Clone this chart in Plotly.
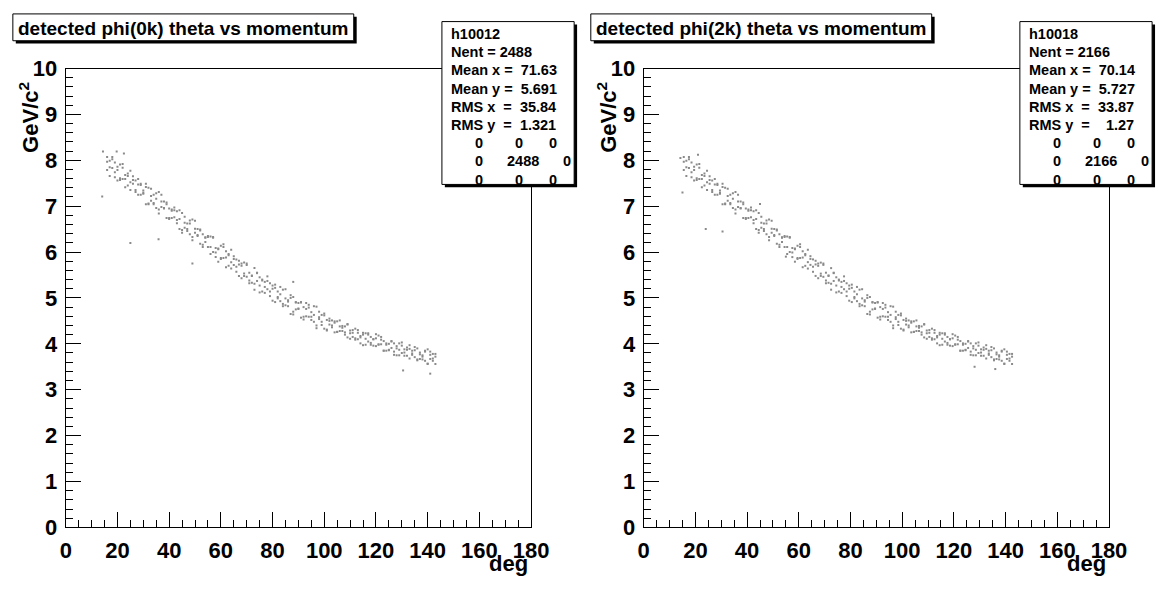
import plotly.graph_objects as go

# ---------------- data ----------------
theta_l = [16, 17, 18, 19, 20, 21, 22, 23, 24, 25, 26, 27, 28, 29, 30, 31, 32, 33, 34, 35,
           36, 37, 38, 39, 40, 41, 42, 43, 44, 45, 46, 47, 48, 49, 50, 51, 52, 53, 54, 55,
           56, 57, 58, 59, 60, 61, 62, 63, 64, 65, 66, 67, 68, 69, 70, 71, 72, 73, 74, 75,
           76, 77, 78, 79, 80, 81, 82, 83, 84, 85, 86, 87, 88, 89, 90, 91, 92, 93, 94, 95,
           96, 97, 98, 99, 100, 101, 102, 103, 104, 105, 106, 107, 108, 109, 110, 111, 112,
           113, 114, 115, 116, 117, 118, 119, 120, 121, 122, 123, 124, 125, 126, 127, 128,
           129, 130, 131, 132, 133, 134, 135, 136, 137, 138, 139, 140, 141, 142, 143]
mom_l_a = [8.07, 7.85, 8.07, 7.63, 7.79, 7.61, 7.84, 7.41, 7.66, 7.52, 7.65, 7.31, 7.47, 7.49,
           7.27, 7.49, 7.06, 7.22, 7.04, 7.28, 6.84, 7.10, 6.95, 7.08, 6.74, 6.90, 6.91, 6.70,
           6.91, 6.48, 6.64, 6.46, 6.69, 6.26, 6.51, 6.37, 6.49, 6.16, 6.31, 6.33, 6.11, 6.33,
           5.89, 6.06, 5.87, 6.11, 5.67, 5.93, 5.78, 5.91, 5.57, 5.73, 5.75, 5.53, 5.75, 5.32,
           5.49, 5.31, 5.55, 5.12, 5.38, 5.24, 5.37, 5.04, 5.20, 5.22, 5.02, 5.24, 4.82, 4.99,
           4.82, 5.06, 4.64, 4.90, 4.77, 4.91, 4.59, 4.76, 4.79, 4.59, 4.82, 4.40, 4.58, 4.41,
           4.66, 4.31, 4.50, 4.40, 4.49, 4.26, 4.38, 4.39, 4.25, 4.42, 4.11, 4.24, 4.12, 4.30,
           4.01, 4.20, 4.11, 4.20, 3.98, 4.10, 4.12, 3.98, 4.15, 3.85, 3.98, 3.86, 4.05, 3.76,
           3.95, 3.87, 3.96, 3.74, 3.87, 3.89, 3.76, 3.93, 3.64, 3.77, 3.66, 3.85, 3.56, 3.76,
           3.68, 3.78]
mom_l_b = [7.79, 7.99, 7.83, 7.95, 7.56, 7.91, 7.59, 7.68, 7.45, 7.77, 7.49, 7.56, 7.25, 7.46,
           7.29, 7.42, 7.04, 7.38, 7.07, 7.16, 6.93, 7.25, 6.96, 7.04, 6.72, 6.93, 6.76, 6.89,
           6.50, 6.85, 6.53, 6.62, 6.39, 6.71, 6.42, 6.50, 6.18, 6.39, 6.22, 6.35, 5.96, 6.31,
           5.99, 6.08, 5.85, 6.17, 5.88, 5.96, 5.64, 5.85, 5.68, 5.81, 5.43, 5.77, 5.46, 5.55,
           5.33, 5.65, 5.37, 5.45, 5.14, 5.35, 5.19, 5.32, 4.94, 5.29, 4.99, 5.08, 4.87, 5.19,
           4.92, 5.00, 4.70, 4.91, 4.76, 4.90, 4.53, 4.89, 4.59, 4.69, 4.48, 4.81, 4.54, 4.63,
           4.33, 4.52, 4.42, 4.51, 4.25, 4.49, 4.28, 4.35, 4.20, 4.43, 4.23, 4.30, 4.09, 4.24,
           4.14, 4.24, 3.98, 4.23, 4.02, 4.10, 3.95, 4.18, 3.99, 4.06, 3.85, 4.00, 3.91, 4.01,
           3.75, 4.01, 3.80, 3.88, 3.74, 3.97, 3.79, 3.86, 3.66, 3.81, 3.72, 3.83, 3.57, 3.83,
           3.63, 3.72]
mom_l_c = [7.97, 7.66, 8.02, 7.74, 7.86, 7.57, 7.92, 7.59, 7.71, 7.35, 7.57, 7.35, 7.59, 7.25,
           7.34, 7.04, 7.40, 7.12, 7.25, 6.96, 7.31, 6.98, 7.10, 6.74, 6.95, 6.74, 6.97, 6.63,
           6.72, 6.42, 6.77, 6.50, 6.62, 6.33, 6.68, 6.35, 6.47, 6.11, 6.32, 6.11, 6.34, 6.00,
           6.09, 5.79, 6.14, 5.87, 6.02, 5.70, 6.05, 5.72, 5.84, 5.48, 5.70, 5.48, 5.72, 5.38,
           5.48, 5.18, 5.54, 5.27, 5.40, 5.11, 5.47, 5.14, 5.27, 4.91, 5.14, 4.93, 5.18, 4.84,
           4.95, 4.65, 5.02, 4.75, 4.89, 4.57, 4.80, 4.60, 4.85, 4.52, 4.63, 4.34, 4.70, 4.48,
           4.62, 4.29, 4.55, 4.36, 4.46, 4.26, 4.51, 4.28, 4.38, 4.14, 4.29, 4.15, 4.33, 4.10,
           4.17, 3.97, 4.23, 4.05, 4.15, 3.96, 4.21, 3.99, 4.09, 3.85, 4.01, 3.87, 4.06, 3.83,
           3.90, 3.75, 4.03, 3.81, 3.92, 3.68, 3.85, 3.71, 3.90, 3.67, 3.75, 3.63, 3.88, 3.67,
           3.78, 3.56]
out_l_theta = [14.4, 19.7, 14.1, 25.0, 35.9, 49.0, 88.0, 130.5, 141.0, 22.5]
out_l_mom = [8.19, 8.19, 7.21, 6.20, 6.28, 5.75, 5.35, 3.42, 3.35, 8.15]

theta_r = [15.5, 16.5, 17.5, 18.5, 19.5, 20.5, 21.5, 22.5, 23.5, 24.5, 25.5, 26.5, 27.5, 28.5,
           29.5, 30.5, 31.5, 32.5, 33.5, 34.5, 35.5, 36.5, 37.5, 38.5, 39.5, 40.5, 41.5, 42.5,
           43.5, 44.5, 45.5, 46.5, 47.5, 48.5, 49.5, 50.5, 51.5, 52.5, 53.5, 54.5, 55.5, 56.5,
           57.5, 58.5, 59.5, 60.5, 61.5, 62.5, 63.5, 64.5, 65.5, 66.5, 67.5, 68.5, 69.5, 70.5,
           71.5, 72.5, 73.5, 74.5, 75.5, 76.5, 77.5, 78.5, 79.5, 80.5, 81.5, 82.5, 83.5, 84.5,
           85.5, 86.5, 87.5, 88.5, 89.5, 90.5, 91.5, 92.5, 93.5, 94.5, 95.5, 96.5, 97.5, 98.5,
           99.5, 100.5, 101.5, 102.5, 103.5, 104.5, 105.5, 106.5, 107.5, 108.5, 109.5, 110.5,
           111.5, 112.5, 113.5, 114.5, 115.5, 116.5, 117.5, 118.5, 119.5, 120.5, 121.5, 122.5,
           123.5, 124.5, 125.5, 126.5, 127.5, 128.5, 129.5, 130.5, 131.5, 132.5, 133.5, 134.5,
           135.5, 136.5, 137.5, 138.5, 139.5, 140.5, 141.5, 142.5]
mom_r_a = [7.79, 7.99, 7.83, 7.95, 7.56, 7.91, 7.59, 7.68, 7.45, 7.77, 7.49, 7.56, 7.25, 7.46,
           7.29, 7.42, 7.04, 7.38, 7.07, 7.16, 6.93, 7.25, 6.96, 7.04, 6.72, 6.93, 6.76, 6.89,
           6.50, 6.85, 6.53, 6.62, 6.39, 6.71, 6.42, 6.50, 6.18, 6.39, 6.22, 6.35, 5.96, 6.31,
           5.99, 6.08, 5.85, 6.17, 5.88, 5.96, 5.64, 5.85, 5.68, 5.81, 5.43, 5.77, 5.46, 5.55,
           5.33, 5.65, 5.37, 5.45, 5.14, 5.35, 5.19, 5.32, 4.94, 5.29, 4.99, 5.08, 4.87, 5.19,
           4.92, 5.00, 4.70, 4.91, 4.76, 4.90, 4.53, 4.89, 4.59, 4.69, 4.48, 4.81, 4.54, 4.63,
           4.33, 4.52, 4.42, 4.51, 4.25, 4.49, 4.28, 4.35, 4.20, 4.43, 4.23, 4.30, 4.09, 4.24,
           4.14, 4.24, 3.98, 4.23, 4.02, 4.10, 3.95, 4.18, 3.99, 4.06, 3.85, 4.00, 3.91, 4.01,
           3.75, 4.01, 3.80, 3.88, 3.74, 3.97, 3.79, 3.86, 3.66, 3.81, 3.72, 3.83, 3.57, 3.83,
           3.63, 3.72]
mom_r_b = [7.97, 7.66, 8.02, 7.74, 7.86, 7.57, 7.92, 7.59, 7.71, 7.35, 7.57, 7.35, 7.59, 7.25,
           7.34, 7.04, 7.40, 7.12, 7.25, 6.96, 7.31, 6.98, 7.10, 6.74, 6.95, 6.74, 6.97, 6.63,
           6.72, 6.42, 6.77, 6.50, 6.62, 6.33, 6.68, 6.35, 6.47, 6.11, 6.32, 6.11, 6.34, 6.00,
           6.09, 5.79, 6.14, 5.87, 6.02, 5.70, 6.05, 5.72, 5.84, 5.48, 5.70, 5.48, 5.72, 5.38,
           5.48, 5.18, 5.54, 5.27, 5.40, 5.11, 5.47, 5.14, 5.27, 4.91, 5.14, 4.93, 5.18, 4.84,
           4.95, 4.65, 5.02, 4.75, 4.89, 4.57, 4.80, 4.60, 4.85, 4.52, 4.63, 4.34, 4.70, 4.48,
           4.62, 4.29, 4.55, 4.36, 4.46, 4.26, 4.51, 4.28, 4.38, 4.14, 4.29, 4.15, 4.33, 4.10,
           4.17, 3.97, 4.23, 4.05, 4.15, 3.96, 4.21, 3.99, 4.09, 3.85, 4.01, 3.87, 4.06, 3.83,
           3.90, 3.75, 4.03, 3.81, 3.92, 3.68, 3.85, 3.71, 3.90, 3.67, 3.75, 3.63, 3.88, 3.67,
           3.78, 3.56]
mom_r_c = [8.07, 7.85, 8.07, 7.63, 7.79, 7.61, 7.84, 7.41, 7.66, 7.52, 7.65, 7.31, 7.47, 7.49,
           7.27, 7.49, 7.06, 7.22, 7.04, 7.28, 6.84, 7.10, 6.95, 7.08, 6.74, 6.90, 6.91, 6.70,
           6.91, 6.48, 6.64, 6.46, 6.69, 6.26, 6.51, 6.37, 6.49, 6.16, 6.31, 6.33, 6.11, 6.33,
           5.89, 6.06, 5.87, 6.11, 5.67, 5.93, 5.78, 5.91, 5.57, 5.73, 5.75, 5.53, 5.75, 5.32,
           5.49, 5.31, 5.55, 5.12, 5.38, 5.24, 5.37, 5.04, 5.20, 5.22, 5.02, 5.24, 4.82, 4.99,
           4.82, 5.06, 4.64, 4.90, 4.77, 4.91, 4.59, 4.76, 4.79, 4.59, 4.82, 4.40, 4.58, 4.41,
           4.66, 4.31, 4.50, 4.40, 4.49, 4.26, 4.38, 4.39, 4.25, 4.42, 4.11, 4.24, 4.12, 4.30,
           4.01, 4.20, 4.11, 4.20, 3.98, 4.10, 4.12, 3.98, 4.15, 3.85, 3.98, 3.86, 4.05, 3.76,
           3.95, 3.87, 3.96, 3.74, 3.87, 3.89, 3.76, 3.93, 3.64, 3.77, 3.66, 3.85, 3.56, 3.76,
           3.68, 3.78]
out_r_theta = [15.0, 21.0, 14.2, 24.0, 45.0, 55.0, 128.0, 136.0, 30.5]
out_r_mom = [7.30, 8.12, 8.05, 6.50, 7.05, 5.90, 3.50, 3.45, 6.45]

titles = ["detected phi(0k) theta vs momentum", "detected phi(2k) theta vs momentum"]
hist_ids = ["h10012", "h10018"]
nent = ["2488", "2166"]
mean_x = ["71.63", "70.14"]
mean_y = ["5.691", "5.727"]
rms_x = ["35.84", "33.87"]
rms_y = ["1.321", "1.27"]

x_ticks = [0, 20, 40, 60, 80, 100, 120, 140, 160, 180]
y_ticks = [0, 1, 2, 3, 4, 5, 6, 7, 8, 9, 10]

# ---------------- layout helpers ----------------
W, H = 1175, 594
FONT = "Liberation Sans"


def fx(px):
    return px / W


def fy(py):
    return 1 - py / H


fig = go.Figure()

panels = [
    (theta_l, [mom_l_a, mom_l_b, mom_l_c], out_l_theta, out_l_mom, "x", "y"),
    (theta_r, [mom_r_a, mom_r_b, mom_r_c], out_r_theta, out_r_mom, "x2", "y2"),
]
for th, moms, oth, omom, xa, ya in panels:
    xs, ys = [], []
    for m in moms:
        xs += th
        ys += m
    xs += oth
    ys += omom
    fig.add_trace(go.Scatter(
        x=xs, y=ys, mode="markers", xaxis=xa, yaxis=ya,
        marker=dict(symbol="square", size=2, color="#8a8a8a", line=dict(width=0)),
        hoverinfo="skip", showlegend=False))

tickfont = dict(family=FONT, size=22, color="black", weight="bold")
ax_common = dict(showgrid=False, zeroline=False, showline=True, linecolor="black",
                 linewidth=1, mirror=True, ticks="inside", tickcolor="black",
                 tickwidth=1, tickfont=tickfont)
xax = dict(range=[0, 180], tickvals=x_ticks, ticklen=15,
           minor=dict(dtick=5, tick0=0, ticks="inside", ticklen=7, tickcolor="black"),
           ticklabelstandoff=3, **ax_common)
yax = dict(range=[0, 10], tickvals=y_ticks, ticklen=15,
           minor=dict(dtick=0.2, tick0=0, ticks="inside", ticklen=7, tickcolor="black"),
           ticklabelstandoff=3, **ax_common)

left0, right0 = 61, 536
dx = 590
fig.update_layout(
    width=W, height=H, margin=dict(l=0, r=0, t=0, b=0),
    paper_bgcolor="white", plot_bgcolor="white",
    xaxis=dict(domain=[fx(left0), fx(right0)], anchor="y", **xax),
    yaxis=dict(domain=[fy(538), fy(59)], anchor="x", **yax),
    xaxis2=dict(domain=[fx(left0 + dx), fx(right0 + dx)], anchor="y2", **xax),
    yaxis2=dict(domain=[fy(538), fy(59)], anchor="x2", **yax),
)

shapes = []
annotations = []
nb = "\u00a0"
for i in range(2):
    off = i * dx
    # title box with shadow
    tb = (7 + off, 2, 355 + off, 30)
    shapes.append(dict(type="rect", xref="paper", yref="paper", layer="above",
                       x0=fx(tb[0] + 3), x1=fx(tb[2] + 3), y0=fy(tb[3] + 3), y1=fy(tb[1] + 3),
                       fillcolor="black", line=dict(width=0)))
    shapes.append(dict(type="rect", xref="paper", yref="paper", layer="above",
                       x0=fx(tb[0]), x1=fx(tb[2]), y0=fy(tb[3]), y1=fy(tb[1]),
                       fillcolor="white", line=dict(color="black", width=1)))
    annotations.append(dict(text=titles[i], xref="paper", yref="paper",
                            x=fx(tb[0] + 3), y=fy(17.5), xanchor="left", yanchor="middle",
                            showarrow=False,
                            font=dict(family=FONT, size=19, color="black", weight="bold")))
    # stats box with shadow
    sb = (445 + off, 10, 580 + off, 180)
    shapes.append(dict(type="rect", xref="paper", yref="paper", layer="above",
                       x0=fx(sb[0] + 3), x1=fx(sb[2] + 3), y0=fy(sb[3] + 3), y1=fy(sb[1] + 3),
                       fillcolor="black", line=dict(width=0)))
    shapes.append(dict(type="rect", xref="paper", yref="paper", layer="above",
                       x0=fx(sb[0]), x1=fx(sb[2]), y0=fy(sb[3]), y1=fy(sb[1]),
                       fillcolor="white", line=dict(color="black", width=1)))
    lines = [hist_ids[i],
             f"Nent = {nent[i]}",
             f"Mean x ={nb}{nb}{mean_x[i]}",
             f"Mean y ={nb}{nb}{mean_y[i]}",
             f"RMS x{nb}{nb}={nb}{nb}{rms_x[i]}",
             f"RMS y{nb}{nb}={nb}{nb}{nb}{nb}{rms_y[i]}" if i == 1 else f"RMS y{nb}{nb}={nb}{nb}{rms_y[i]}"]
    ys_line = [23, 42, 61, 80, 99, 118]
    sfont = dict(family=FONT, size=14.5, color="black", weight="bold")
    for t, yy in zip(lines, ys_line):
        annotations.append(dict(text=t, xref="paper", yref="paper", x=fx(452 + off), y=fy(yy),
                                xanchor="left", yanchor="middle", showarrow=False, font=sfont))
    grid = [[("0", 483), ("0", 524), ("0", 558)],
            [("0", 483), (nent[i], 528), ("0", 573)],
            [("0", 483), ("0", 524), ("0", 558)]]
    for row, yy in zip(grid, [137, 156, 175]):
        for t, xx in row:
            annotations.append(dict(text=t, xref="paper", yref="paper", x=fx(xx + off), y=fy(yy),
                                    xanchor="center", yanchor="middle", showarrow=False,
                                    font=sfont))
    # axis titles
    annotations.append(dict(text="deg", xref="paper", yref="paper", x=fx(535 + off), y=fy(576),
                            xanchor="right", yanchor="middle", showarrow=False,
                            font=dict(family=FONT, size=22, color="black", weight="bold")))
    annotations.append(dict(text="GeV/c<sup>2</sup>", xref="paper", yref="paper",
                            x=fx(24 + off), y=fy(110), xanchor="center", yanchor="middle",
                            textangle=-90, showarrow=False,
                            font=dict(family=FONT, size=22, color="black", weight="bold")))

fig.update_layout(shapes=shapes, annotations=annotations)
fig.write_html("out.html")
